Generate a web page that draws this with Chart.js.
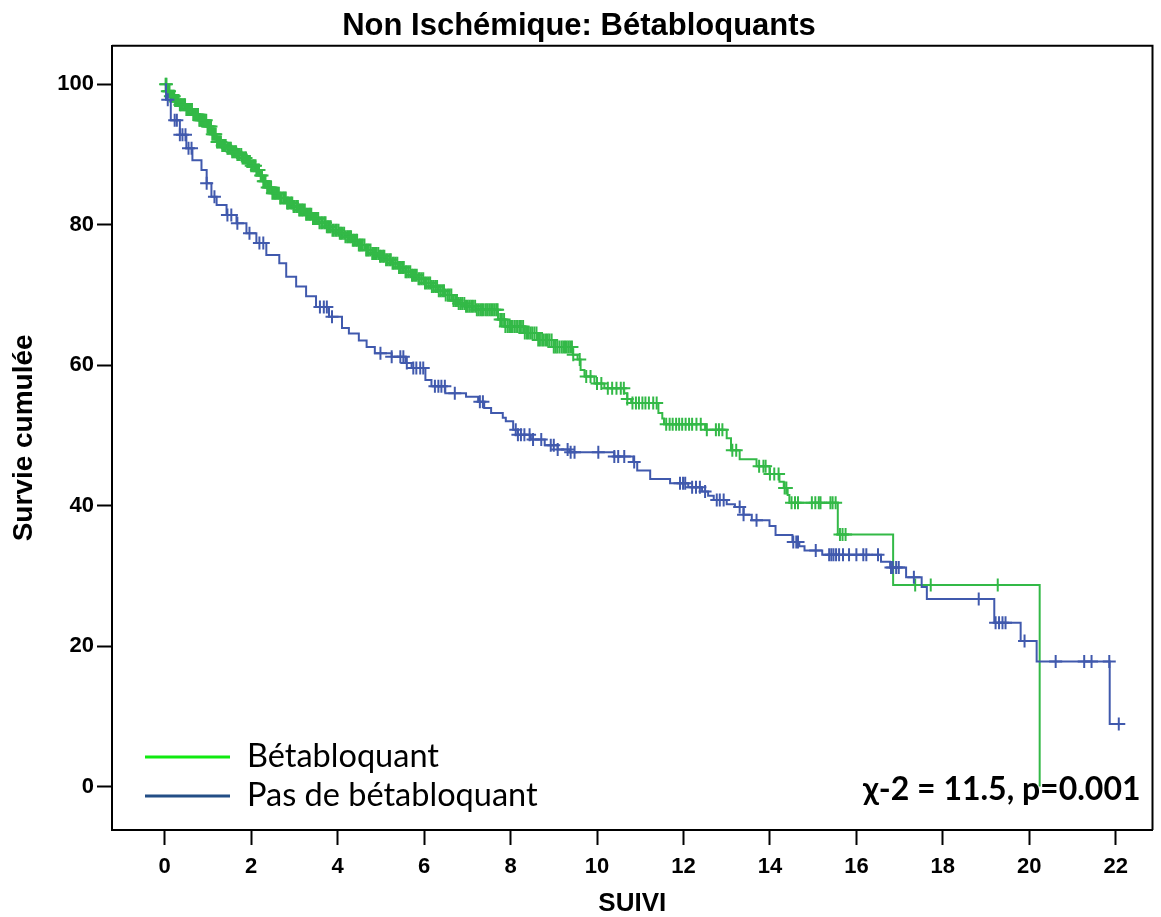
<!DOCTYPE html>
<html>
<head>
<meta charset="utf-8">
<script src="https://cdn.jsdelivr.net/npm/chart.js@4.4.1/dist/chart.umd.min.js"></script>
<style>
  html, body { margin: 0; padding: 0; background: #ffffff; }
  #wrap { width: 1161px; height: 917px; }
</style>
</head>
<body>
<div id="wrap"><canvas id="c" width="1161" height="917"></canvas></div>
<script>
// ---- Data (time in years, cumulative survival in %) ----
const chartTitle = 'Non Ischémique: Bétabloquants';
const xAxisTitle = 'SUIVI';
const yAxisTitle = 'Survie cumulée';
const statText = 'χ-2 = 11.5, p=0.001';
const seriesNames = ['Bétabloquant', 'Pas de bétabloquant'];
const xTicks = [0, 2, 4, 6, 8, 10, 12, 14, 16, 18, 20, 22];
const yTicks = [0, 20, 40, 60, 80, 100];

// Bétabloquant: event times and survival after each event
const greenTimes = [0, 0.06, 0.12, 0.23, 0.35, 0.5, 0.64, 0.8, 0.97, 1.08, 1.2, 1.31, 1.43, 1.55, 1.66,
  1.78, 1.89, 2.0, 2.12, 2.19, 2.26, 2.37, 2.49, 2.65, 2.81, 2.96, 3.11, 3.26, 3.41, 3.57,
  3.73, 3.88, 4.03, 4.18, 4.33, 4.49, 4.65, 4.8, 4.95, 5.1, 5.25, 5.41, 5.57, 5.72, 5.87,
  6.02, 6.17, 6.33, 6.49, 6.67, 6.8, 6.95, 7.2, 7.71, 7.87,
  8.33, 8.63, 9.0, 9.44, 9.55, 9.62, 9.71, 9.94, 10.17, 10.63, 10.7, 10.79, 11.42, 11.51, 11.55,
  12.5, 13.0, 13.1, 13.3, 13.69, 13.99, 14.22, 14.32, 14.41, 14.45, 15.57, 16.85, 20.24];
const greenSurv = [100, 99.0, 98.3, 97.7, 97.1, 96.4, 95.7, 94.9, 94.0, 92.9, 91.8, 91.3, 90.9, 90.4, 90.0,
  89.5, 89.0, 88.4, 87.8, 87.0, 86.2, 85.3, 84.5, 83.8, 83.1, 82.6, 82.1, 81.5, 80.9, 80.3,
  79.7, 79.2, 78.8, 78.3, 77.8, 77.1, 76.4, 75.9, 75.5, 75.0, 74.5, 73.9, 73.3, 72.8, 72.3,
  71.7, 71.2, 70.6, 70.0, 69.2, 68.8, 68.4, 67.9, 66.5, 65.5,
  64.6, 63.6, 62.6, 61.5, 60.8, 59.3, 58.4, 57.4, 56.7, 56.0, 55.2, 54.6, 53.2, 52.4, 51.6,
  50.8, 49.6, 47.9, 46.6, 45.6, 44.5, 43.4, 42.5, 41.5, 40.4, 35.9, 28.7, 0];
// Bétabloquant: censored times
const greenCensored = [0.02, 0.04, 0.06, 0.085, 0.11, 0.13, 0.15, 0.175, 0.2, 0.22, 0.24, 0.27, 0.3, 0.32,
  0.35, 0.37, 0.39, 0.42, 0.45, 0.47, 0.5, 0.52, 0.55, 0.58, 0.61, 0.63, 0.66, 0.68, 0.7, 0.73, 0.77,
  0.8, 0.82, 0.85, 0.88, 0.9, 0.93, 0.96, 0.99, 1.01, 1.04, 1.07, 1.1, 1.13, 1.16, 1.18, 1.21, 1.24,
  1.27, 1.3, 1.33, 1.35, 1.38, 1.41, 1.45, 1.47, 1.5, 1.53, 1.56, 1.59, 1.62, 1.65, 1.68, 1.7, 1.73,
  1.77, 1.8, 1.83, 1.86, 1.88, 1.91, 1.94, 1.97, 2.0, 2.04, 2.07, 2.1, 2.12, 2.15, 2.18, 2.22, 2.25,
  2.28, 2.3, 2.33, 2.37, 2.4, 2.43, 2.46, 2.49, 2.52, 2.55, 2.58, 2.61, 2.64, 2.67, 2.7, 2.74, 2.77,
  2.8, 2.83, 2.85, 2.88, 2.92, 2.95, 2.98, 3.01, 3.05, 3.08, 3.11, 3.14, 3.17, 3.2, 3.24, 3.27, 3.3,
  3.33, 3.36, 3.39, 3.43, 3.46, 3.49, 3.52, 3.55, 3.58, 3.62, 3.65, 3.69, 3.72, 3.75, 3.78, 3.81,
  3.84, 3.88, 3.91, 3.95, 3.98, 4.02, 4.05, 4.08, 4.11, 4.15, 4.18, 4.22, 4.25, 4.28, 4.31, 4.35,
  4.38, 4.42, 4.45, 4.49, 4.52, 4.55, 4.58, 4.62, 4.66, 4.69, 4.72, 4.76, 4.8, 4.84, 4.87, 4.9, 4.94,
  4.98, 5.01, 5.05, 5.08, 5.12, 5.16, 5.2, 5.23, 5.27, 5.3, 5.34, 5.38, 5.42, 5.45, 5.49, 5.53, 5.57,
  5.6, 5.64, 5.68, 5.72, 5.75, 5.79, 5.83, 5.87, 5.9, 5.94, 5.98, 6.02, 6.06, 6.1, 6.14, 6.18, 6.22,
  6.26, 6.3, 6.34, 6.38, 6.42, 6.46, 6.5, 6.55, 6.59, 6.63, 6.68, 6.72, 6.76, 6.8, 6.84, 6.88, 6.93,
  6.97, 7.01, 7.05, 7.09, 7.13, 7.18, 7.22, 7.26, 7.3, 7.34, 7.38, 7.43, 7.47, 7.51, 7.55, 7.59, 7.63,
  7.67, 7.7, 7.76, 7.8, 7.85, 7.88, 7.93, 7.97, 8.01, 8.05, 8.1, 8.15, 8.2, 8.24, 8.29, 8.33, 8.38,
  8.42, 8.46, 8.5, 8.55, 8.6, 8.64, 8.68, 8.73, 8.77, 8.82, 8.86, 8.9, 8.95, 9.0, 9.04, 9.08, 9.13,
  9.18, 9.22, 9.26, 9.3, 9.34, 9.38, 9.42, 9.45, 9.6, 9.75, 9.85, 10.0, 10.1, 10.25, 10.35, 10.45,
  10.55, 10.62, 10.7, 10.82, 10.9, 10.97, 11.05, 11.12, 11.2, 11.3, 11.38, 11.6, 11.68, 11.75, 11.83,
  11.9, 11.97, 12.05, 12.13, 12.2, 12.3, 12.4, 12.54, 12.75, 12.82, 12.9, 13.13, 13.22, 13.75, 13.85,
  13.9, 14.0, 14.1, 14.2, 14.34, 14.38, 14.5, 14.58, 14.65, 14.97, 15.05, 15.13, 15.17, 15.4, 15.45,
  15.52, 15.62, 15.68, 15.75, 17.36, 17.72, 19.27];

// Pas de bétabloquant: event times and survival after each event
const blueTimes = [0, 0.03, 0.14, 0.35, 0.5, 0.64, 0.85, 0.97, 1.08, 1.2, 1.43, 1.66, 1.89, 2.12, 2.35,
  2.65, 2.81, 3.04, 3.27, 3.5, 3.8, 4.1, 4.26, 4.49, 4.67, 4.86, 5.25, 5.57, 5.71, 6.03,
  6.17, 6.49, 6.97, 7.25, 7.39, 7.55, 7.82, 7.89, 8.06, 8.17, 8.47, 8.79, 9.09, 9.37, 10.4,
  10.84, 10.93, 11.23, 11.69, 12.11, 12.43, 12.57, 12.7, 13.0, 13.19, 13.39, 13.58, 13.99, 14.13, 14.52,
  14.68, 14.8, 15.21, 16.57, 16.78, 17.15, 17.51, 17.63, 19.19, 19.8, 20.17, 21.86, 22.07];
const blueSurv = [100, 97.8, 94.9, 92.8, 90.9, 89.2, 87.8, 85.9, 84.0, 82.8, 81.4, 80.2, 78.8, 77.4, 75.7,
  74.5, 72.6, 71.2, 69.8, 68.3, 66.9, 65.3, 64.5, 63.5, 62.6, 61.7, 61.2, 60.3, 59.6, 57.9,
  57.0, 56.0, 55.5, 54.8, 53.9, 53.2, 52.5, 52.0, 50.8, 50.1, 49.4, 48.6, 48.0, 47.6, 47.0,
  46.2, 45.0, 43.8, 43.2, 42.6, 42.0, 41.4, 40.8, 40.2, 39.8, 38.7, 37.9, 37.1, 35.8, 34.8,
  34.2, 33.6, 33.0, 32.0, 31.2, 29.8, 28.4, 26.7, 23.3, 20.7, 17.8, 8.9, 8.9];
// Pas de bétabloquant: censored times
const blueCensored = [0.07, 0.23, 0.28, 0.35, 0.41, 0.48, 0.55, 0.62, 0.97, 1.15, 1.45, 1.54, 1.68, 1.96,
  2.19, 2.28, 3.59, 3.68, 3.75, 3.87, 4.99, 5.25, 5.45, 5.52, 5.6, 5.75, 5.82, 5.91, 5.98, 6.25, 6.33,
  6.4, 6.48, 6.71, 7.29, 7.36, 8.12, 8.17, 8.24, 8.32, 8.44, 8.52, 8.71, 8.93, 9.0, 9.09, 9.32, 9.39,
  9.48, 10.03, 10.4, 10.49, 10.63, 10.86, 11.92, 11.99, 12.04, 12.2, 12.29, 12.38, 12.5, 12.77, 12.84,
  12.93, 13.3, 13.39, 13.69, 14.54, 14.61, 14.65, 15.06, 15.37, 15.42, 15.47, 15.53, 15.6, 15.69,
  15.83, 16.0, 16.16, 16.23, 16.5, 16.8, 16.84, 16.92, 16.98, 17.33, 18.83, 19.22, 19.3, 19.38, 19.45,
  19.89, 20.61, 21.27, 21.44, 21.85, 22.07];

// ---- Styles ----
const greenCurve = '#33b947';
const blueCurve = '#4059ad';
const greenLegend = '#10ea10';
const blueLegend = '#234e86';

function levelAt(times, surv, t) {
  let s = surv[0];
  for (let i = 0; i < times.length; i++) {
    if (times[i] <= t) s = surv[i]; else break;
  }
  return s;
}
const toPoints = (times, surv) => times.map((t, i) => ({ x: t, y: surv[i] }));
const toCensor = (cens, times, surv) => cens.map(t => ({ x: t, y: levelAt(times, surv, t) }));

const boxPlugin = {
  id: 'frameBox',
  beforeDatasetsDraw(chart) {
    const { ctx, chartArea: a } = chart;
    ctx.save();
    ctx.strokeStyle = '#000';
    ctx.lineWidth = 2;
    ctx.beginPath();
    ctx.moveTo(a.left, a.top);
    ctx.lineTo(a.right, a.top);
    ctx.lineTo(a.right, a.bottom);
    ctx.stroke();
    ctx.restore();
  }
};

const legendPlugin = {
  id: 'kmLegend',
  afterDraw(chart) {
    const { ctx, chartArea: a } = chart;
    const colors = [greenLegend, blueLegend];
    ctx.save();
    ctx.font = '32.5px Lato';
    ctx.textBaseline = 'alphabetic';
    ctx.textAlign = 'left';
    seriesNames.forEach((name, i) => {
      const y = a.bottom - 73 + i * 39;
      ctx.strokeStyle = colors[i];
      ctx.lineWidth = 3;
      ctx.beginPath();
      ctx.moveTo(a.left + 33, y);
      ctx.lineTo(a.left + 118, y);
      ctx.stroke();
      ctx.fillStyle = '#000';
      ctx.fillText(name, a.left + 135, y + 10);
    });
    ctx.font = 'bold 32px Lato';
    ctx.textAlign = 'right';
    ctx.fillText(statText, a.right - 12, a.bottom - 30);
    ctx.restore();
  }
};

const tickFont = { family: 'Liberation Sans', size: 22, weight: 'bold' };

new Chart(document.getElementById('c'), {
  type: 'line',
  data: {
    datasets: [
      { label: seriesNames[1] + ' censurés', data: toCensor(blueCensored, blueTimes, blueSurv), showLine: false,
        pointStyle: 'cross', pointRadius: 6.5, pointBorderWidth: 2, pointBorderColor: blueCurve,
        borderColor: blueCurve, order: 0 },
      { label: seriesNames[1], data: toPoints(blueTimes, blueSurv), stepped: true, borderColor: blueCurve,
        borderWidth: 2, pointRadius: 0, fill: false, order: 1 },
      { label: seriesNames[0] + ' censurés', data: toCensor(greenCensored, greenTimes, greenSurv), showLine: false,
        pointStyle: 'cross', pointRadius: 6.5, pointBorderWidth: 2, pointBorderColor: greenCurve,
        borderColor: greenCurve, order: 2 },
      { label: seriesNames[0], data: toPoints(greenTimes, greenSurv), stepped: true, borderColor: greenCurve,
        borderWidth: 2, pointRadius: 0, fill: false, order: 3 }
    ]
  },
  options: {
    responsive: false,
    animation: false,
    devicePixelRatio: 1,
    events: [],
    layout: { padding: { left: 0, right: 3, top: 0, bottom: 0 } },
    plugins: {
      legend: { display: false },
      tooltip: { enabled: false },
      title: {
        display: true, text: chartTitle, color: '#000',
        font: { family: 'Liberation Sans', size: 31, weight: 'bold', lineHeight: 1.2 },
        padding: { top: 8, bottom: 0.5 }
      }
    },
    scales: {
      x: {
        type: 'linear', min: -1.22, max: 22.85,
        afterBuildTicks: s => { s.ticks = xTicks.map(v => ({ value: v })); },
        afterFit: s => { s.height = 87; },
        border: { display: true, color: '#000', width: 2 },
        grid: { display: true, drawOnChartArea: false, drawTicks: true, tickLength: 15, tickWidth: 2, tickColor: '#000' },
        ticks: { color: '#000', font: tickFont, padding: 9, maxRotation: 0, autoSkip: false },
        title: { display: true, text: xAxisTitle, color: '#000',
          font: { family: 'Liberation Sans', size: 26, weight: 'bold', lineHeight: 1 }, padding: { top: 0, bottom: 0 } }
      },
      y: {
        type: 'linear', min: -6.2, max: 105.5,
        afterBuildTicks: s => { s.ticks = yTicks.map(v => ({ value: v })); },
        afterFit: s => { s.width = 112; },
        border: { display: true, color: '#000', width: 2 },
        grid: { display: true, drawOnChartArea: false, drawTicks: true, tickLength: 15, tickWidth: 2, tickColor: '#000' },
        ticks: { color: '#000', font: tickFont, padding: 3 },
        title: { display: true, text: yAxisTitle, color: '#000',
          font: { family: 'Liberation Sans', size: 28, weight: 'bold', lineHeight: 1 }, padding: { top: 10, bottom: 0 } }
      }
    }
  },
  plugins: [boxPlugin, legendPlugin]
});
</script>
</body>
</html>
